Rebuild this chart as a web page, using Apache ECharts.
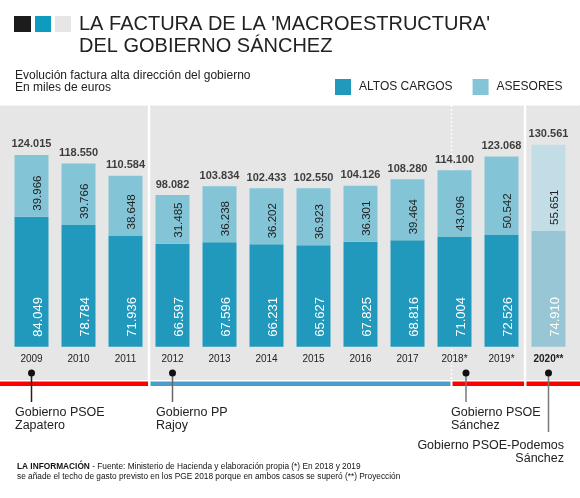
<!DOCTYPE html>
<html>
<head>
<meta charset="utf-8">
<script src="https://cdn.jsdelivr.net/npm/echarts@6/dist/echarts.min.js"></script>
<style>
	body { margin: 0; background: #fff; }
	#main { width: 580px; height: 498px; }
</style>
</head>
<body>
<div id="main"></div>
<script>
var years = ['2009', '2010', '2011', '2012', '2013', '2014', '2015', '2016', '2017', '2018*', '2019*', '2020**'];
var altosCargos = [84049, 78784, 71936, 66597, 67596, 66231, 65627, 67825, 68816, 71004, 72526, 74910];
var asesores = [39966, 39766, 38648, 31485, 36238, 36202, 36923, 36301, 39464, 43096, 50542, 55651];
var totales = [124015, 118550, 110584, 98082, 103834, 102433, 102550, 104126, 108280, 114100, 123068, 130561];
var proyeccion = '2020**';

var FONT = "'Liberation Sans', Arial, sans-serif";
var colAltos = '#2199bd';
var colAsesores = '#83c5d7';

function fmt(v) {
	return (v / 1000).toFixed(3);
}

function conProyeccion(arr, color) {
	return arr.map(function(v, i) {
		if(years[i] == proyeccion) {
			return { value: v, itemStyle: { color: color } };
		}
		return v;
	});
}

var myChart = echarts.init(document.getElementById('main'));
myChart.setOption({
	animation: false,
	textStyle: { fontFamily: FONT },
	title: [{
		text: "LA FACTURA DE LA 'MACROESTRUCTURA'\nDEL GOBIERNO SÁNCHEZ",
		left: 79,
		top: 13,
		padding: 0,
		textStyle: { fontSize: 20, fontWeight: 'normal', color: '#222', lineHeight: 22, fontFamily: FONT }
	}, {
		text: 'Evolución factura alta dirección del gobierno\nEn miles de euros',
		left: 15,
		top: 70,
		padding: 0,
		textStyle: { fontSize: 12, fontWeight: 'normal', color: '#222', lineHeight: 12, fontFamily: FONT }
	}],
	legend: {
		data: ['ALTOS CARGOS', 'ASESORES'],
		left: 335,
		top: 79,
		padding: 0,
		itemWidth: 16,
		itemHeight: 16,
		itemGap: 20,
		icon: 'rect',
		selectedMode: false,
		textStyle: { fontSize: 12, color: '#222', padding: [0, 0, 0, 3] }
	},
	grid: { left: 8, right: 8, top: 105, height: 275 },
	xAxis: {
		type: 'category',
		data: years,
		axisLine: { show: false },
		axisTick: { show: false },
		axisLabel: {
			interval: 0,
			margin: -26,
			fontSize: 10,
			color: '#222',
			formatter: function(v) {
				return v == proyeccion ? '{b|' + v + '}' : v;
			},
			rich: { b: { fontSize: 10, fontWeight: 'bold', color: '#222' } }
		}
	},
	yAxis: {
		type: 'value',
		min: -21500,
		max: 156300,
		axisLine: { show: false },
		axisTick: { show: false },
		axisLabel: { show: false },
		splitLine: { show: false }
	},
	series: [{
		name: 'ALTOS CARGOS',
		type: 'bar',
		stack: 'total',
		barWidth: 34,
		z: 2,
		color: colAltos,
		data: conProyeccion(altosCargos, '#98c6d5'),
		label: {
			show: true,
			position: 'insideBottom',
			distance: 10,
			rotate: 90,
			align: 'left',
			verticalAlign: 'top',
			fontSize: 13,
			color: '#fff',
			formatter: function(p) { return fmt(p.value); }
		}
	}, {
		name: 'ASESORES',
		type: 'bar',
		stack: 'total',
		barWidth: 34,
		z: 2,
		color: colAsesores,
		data: conProyeccion(asesores, '#c2dde5'),
		label: {
			show: true,
			position: 'insideBottom',
			distance: 6,
			rotate: 90,
			align: 'left',
			verticalAlign: 'top',
			fontSize: 11.5,
			color: '#222',
			formatter: function(p) { return fmt(p.value); }
		}
	}, {
		name: 'total',
		type: 'scatter',
		symbolSize: 0,
		silent: true,
		data: totales,
		label: {
			show: true,
			position: 'top',
			distance: 5,
			fontSize: 11,
			fontWeight: 'bold',
			color: '#111',
			formatter: function(p) { return fmt(p.value); }
		}
	}]
});

// decoracion: fondo gris, separadores, franjas de gobierno y notas
var cx = years.map(function(y) { return myChart.convertToPixel({ xAxisIndex: 0 }, y); });
var half = (cx[1] - cx[0]) / 2;
var b3 = cx[3] - half;
var b11 = cx[11] - half;
var d18 = cx[9] - 3;
var panelTop = 105, panelBottom = 380;

var g = [];
g.push({ type: 'rect', z: -10, shape: { x: 0, y: panelTop, width: 580, height: panelBottom - panelTop }, style: { fill: '#e6e6e6' } });
g.push({ type: 'line', z: -5, shape: { x1: 0, y1: panelTop + 0.5, x2: 580, y2: panelTop + 0.5 }, style: { stroke: '#fff', lineWidth: 1, lineDash: [1, 1] } });
g.push({ type: 'line', z: -5, shape: { x1: b3, y1: panelTop, x2: b3, y2: panelBottom }, style: { stroke: '#fff', lineWidth: 2.5 } });
g.push({ type: 'line', z: -5, shape: { x1: b11, y1: panelTop, x2: b11, y2: panelBottom }, style: { stroke: '#fff', lineWidth: 2.5 } });
g.push({ type: 'line', z: -5, shape: { x1: d18, y1: panelTop, x2: d18, y2: panelBottom }, style: { stroke: '#fff', lineWidth: 1.5, lineDash: [2, 2] } });

var franjas = [[0, b3 - 1, '#ff0000'], [b3 + 1.5, d18 - 1, '#4a9ec9'], [d18 + 1, b11 - 1, '#ff0000'], [b11 + 1.5, 580, '#ff0000']];
franjas.forEach(function(f) {
	g.push({ type: 'rect', shape: { x: f[0], y: 381.5, width: f[1] - f[0], height: 4.5 }, style: { fill: f[2] } });
});

var notas = [
	{ x: cx[0], y2: 402, c: '#222', tx: 15, ty: 419, align: 'left', text: 'Gobierno PSOE\nZapatero' },
	{ x: cx[3], y2: 402, c: '#666', tx: 156, ty: 419, align: 'left', text: 'Gobierno PP\nRajoy' },
	{ x: cx[9] + 11.5, y2: 402, c: '#777', tx: 451, ty: 419, align: 'left', text: 'Gobierno PSOE\nSánchez' },
	{ x: cx[11], y2: 432, c: '#777', tx: 564, ty: 452, align: 'right', text: 'Gobierno PSOE-Podemos\nSánchez' }
];
notas.forEach(function(n) {
	g.push({ type: 'line', shape: { x1: n.x, y1: 373, x2: n.x, y2: n.y2 }, style: { stroke: n.c, lineWidth: 1.5 } });
	g.push({ type: 'circle', shape: { cx: n.x, cy: 373, r: 3.5 }, style: { fill: '#111' } });
	g.push({ type: 'text', x: n.tx, y: n.ty, style: { text: n.text, font: '12.5px ' + FONT, fill: '#222', lineHeight: 12.5, align: n.align, verticalAlign: 'middle' } });
});

// cuadrados de cabecera
g.push({ type: 'rect', shape: { x: 14, y: 16, width: 17, height: 16 }, style: { fill: '#1c1c1c' } });
g.push({ type: 'rect', shape: { x: 35, y: 16, width: 16, height: 16 }, style: { fill: '#0d9cc0' } });
g.push({ type: 'rect', shape: { x: 55, y: 16, width: 16, height: 16 }, style: { fill: '#e6e6e6' } });

g.push({
	type: 'text', x: 17, y: 462,
	style: {
		text: '{b|LA INFORMACIÓN} - Fuente: Ministerio de Hacienda y elaboración propia (*) En 2018 y 2019\nse añade el techo de gasto previsto en los PGE 2018 porque en ambos casos se superó (**) Proyección',
		font: '8.3px ' + FONT,
		fill: '#111',
		lineHeight: 10,
		rich: { b: { font: 'bold 8.3px ' + FONT, fill: '#111' } }
	}
});

myChart.setOption({ graphic: g });
</script>
</body>
</html>
